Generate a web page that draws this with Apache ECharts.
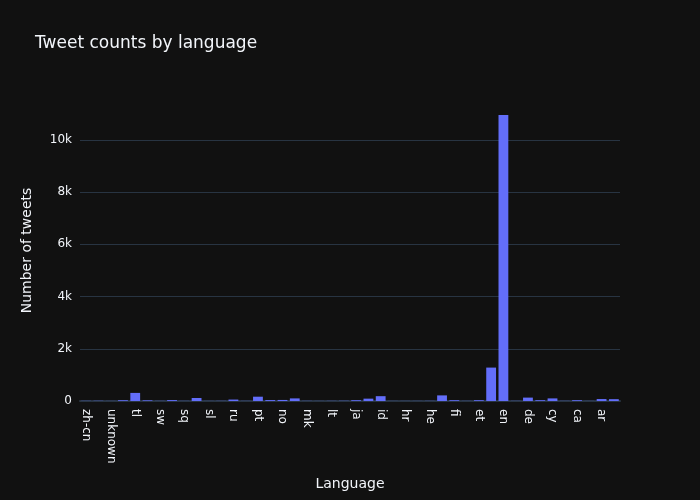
<!DOCTYPE html>
<html lang="en">
<head>
    <meta charset="UTF-8">
    <title>Tweet counts by language</title>
    <script src="https://cdn.jsdelivr.net/npm/echarts@6/dist/echarts.min.js"></script>
    <style>
        html, body { margin: 0; padding: 0; background: #111111; }
        #chart { width: 700px; height: 500px; }
    </style>
</head>
<body>
    <div id="chart"></div>
    <script>
        // languages, sorted descending as in the source
        var languages = ['zh-cn', 'vi', 'unknown', 'tr', 'tl', 'th', 'sw', 'sv', 'sq', 'so',
            'sl', 'sk', 'ru', 'ro', 'pt', 'pl', 'no', 'nl', 'mk', 'lv',
            'lt', 'ko', 'ja', 'it', 'id', 'hu', 'hr', 'hi', 'he', 'fr',
            'fi', 'fa', 'et', 'es', 'en', 'el', 'de', 'da', 'cy', 'cs',
            'ca', 'bg', 'ar', 'af'];
        var tweetCounts = [6, 8, 3, 30, 310, 25, 5, 35, 4, 115,
            3, 5, 55, 4, 165, 35, 40, 100, 5, 3,
            5, 8, 30, 90, 185, 3, 3, 3, 5, 215,
            30, 4, 30, 1280, 10960, 5, 130, 30, 100, 5,
            30, 3, 75, 70];
        var yTicks = [0, 2000, 4000, 6000, 8000, 10000];

        var chart = echarts.init(document.getElementById('chart'));
        var font = '"DejaVu Sans", verdana, arial, sans-serif';
        chart.setOption({
            backgroundColor: '#111111',
            textStyle: { fontFamily: font },
            title: {
                text: 'Tweet counts by language',
                left: 35,
                top: 35,
                padding: 0,
                textStyle: { color: '#f2f5fa', fontSize: 17, fontWeight: 'normal', fontFamily: font }
            },
            grid: { left: 80, right: 80, top: 100, bottom: 99, containLabel: false },
            xAxis: {
                type: 'category',
                data: languages,
                name: 'Language',
                nameLocation: 'middle',
                nameGap: 76,
                nameTextStyle: { color: '#f2f5fa', fontSize: 14 },
                axisLine: { show: true, lineStyle: { color: '#283442', width: 2 } },
                axisTick: { show: false },
                axisLabel: { color: '#f2f5fa', fontSize: 12, rotate: -90, interval: 1, margin: 8 },
                splitLine: { show: false }
            },
            yAxis: {
                type: 'value',
                min: 0,
                max: 11530,
                interval: 2000,
                name: 'Number of tweets',
                nameLocation: 'middle',
                nameRotate: 90,
                nameGap: 46,
                nameTextStyle: { color: '#f2f5fa', fontSize: 14 },
                axisLine: { show: false },
                axisTick: { show: false },
                axisLabel: {
                    color: '#f2f5fa', fontSize: 12, margin: 8,
                    showMaxLabel: false,
                    formatter: function (v) {
                        if (yTicks.indexOf(v) < 0) return '';
                        return v === 0 ? '0' : (v / 1000) + 'k';
                    }
                },
                splitLine: { showMaxLine: false, lineStyle: { color: '#283442', width: 1 } }
            },
            series: [{
                type: 'bar',
                data: tweetCounts,
                barCategoryGap: '20%',
                itemStyle: { color: '#636efa' }
            }]
        });
    </script>
</body>
</html>
